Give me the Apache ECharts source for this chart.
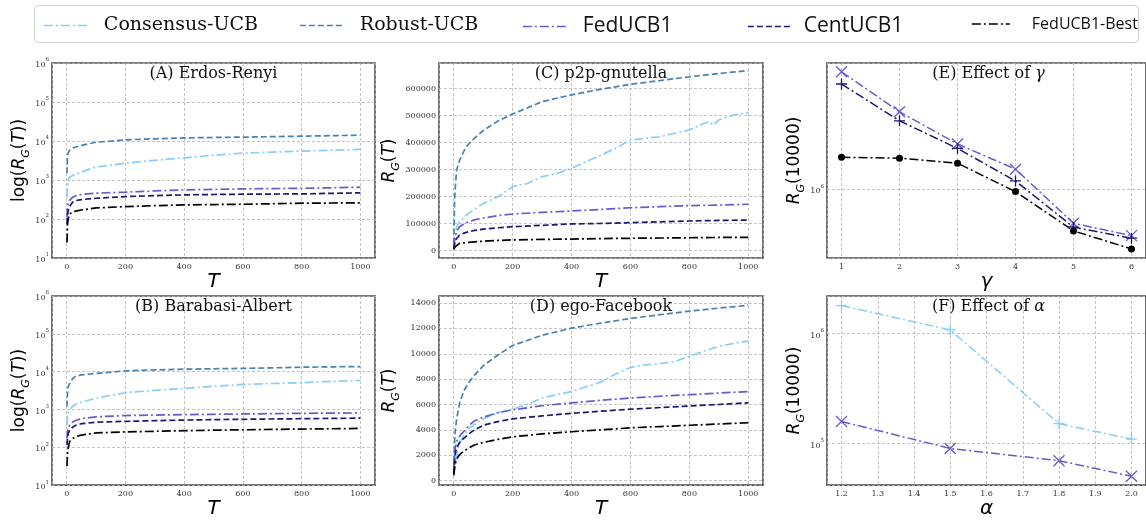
<!DOCTYPE html>
<html><head><meta charset="utf-8">
<script src="https://cdn.jsdelivr.net/npm/echarts@6/dist/echarts.min.js"></script>
<style>html,body{margin:0;padding:0;background:#fff}#c{width:1146px;height:520px}</style>
</head><body><div id="c"></div>
<script>
// ---------------- DATA ----------------
const seriesNames = ['Consensus-UCB', 'Robust-UCB', 'FedUCB1', 'CentUCB1', 'FedUCB1-Best'];

// Panels A, B (log scale)
const T_AB = [1, 3, 5, 10, 20, 30, 50, 100, 200, 300, 400, 500, 600, 700, 800, 900, 1000];
const A_consensus = [360, 700, 980, 1180, 1300, 1400, 1600, 2150, 2700, 3200, 3700, 4300, 4900, 5200, 5500, 5800, 6100];
const A_robust = [1500, 4000, 5000, 5700, 6500, 7000, 7700, 9300, 10700, 11400, 12000, 12300, 12600, 12900, 13300, 13700, 14100];
const A_fed = [110, 190, 245, 300, 360, 390, 425, 460, 487, 525, 558, 575, 592, 602, 612, 630, 653];
const A_cent = [75, 130, 164, 210, 270, 295, 315, 340, 376, 396, 415, 425, 432, 436, 440, 455, 468];
const A_best = [25, 75, 100, 135, 150, 160, 170, 192, 208, 220, 230, 235, 239, 246, 254, 257, 260];

const B_consensus = [380, 650, 850, 1000, 1200, 1350, 1550, 2000, 2770, 3200, 3600, 4100, 4600, 4850, 5100, 5500, 5900];
const B_robust = [1200, 3000, 4000, 4800, 6500, 7500, 8200, 9000, 10500, 11100, 11600, 11900, 12200, 12600, 13100, 13400, 13600];
const B_fed = [172, 260, 320, 380, 460, 510, 570, 640, 690, 710, 730, 745, 760, 775, 790, 800, 810];
const B_cent = [115, 180, 230, 280, 340, 380, 420, 460, 485, 505, 525, 538, 550, 560, 570, 580, 590];
const B_best = [32, 70, 95, 142, 170, 190, 210, 240, 255, 265, 275, 283, 290, 297, 303, 309, 315];

// Panels C, D (linear)
const T_CD = [0, 3, 5, 10, 20, 35, 50, 70, 100, 150, 200, 300, 400, 500, 600, 700, 800, 900, 1000];
const T_noisy = [0, 10, 20, 50, 100, 150, 200, 250, 300, 350, 400, 450, 500, 550, 600, 650, 700, 750, 800, 850, 870, 880, 900, 950, 1000];

const C_consensus = [15000, 89000, 107000, 138000, 175000, 200000, 237000, 249000, 274000, 286000, 305000, 330000, 354000, 379000, 410000, 416000, 422000, 435000, 447000, 472000, 478000, 465000, 484000, 502000, 512000];
const C_robust = [27000, 188000, 230000, 300000, 335000, 370000, 395000, 416000, 445000, 480000, 506000, 552000, 577000, 598000, 616000, 630000, 644000, 656000, 667000];
const C_fed = [15000, 40000, 52000, 72000, 89000, 100000, 107000, 114000, 121000, 130000, 136000, 142000, 147000, 153000, 159000, 163000, 167000, 169000, 172000];
const C_cent = [8600, 25000, 33000, 45000, 58000, 65000, 70000, 75000, 80000, 85000, 89000, 94000, 99000, 101000, 104000, 107000, 110000, 112000, 113600];
const C_best = [5000, 12000, 15000, 21000, 27000, 29000, 31000, 33000, 35000, 38000, 40000, 42000, 43000, 45000, 46000, 47000, 48000, 49000, 49400];

const D_consensus = [300, 2000, 3000, 4100, 4870, 5350, 5630, 6010, 6510, 6770, 7020, 7400, 7780, 8400, 8920, 9130, 9230, 9380, 9810, 10190, 10350, 10450, 10570, 10820, 11000];
const D_robust = [810, 3090, 3900, 4870, 6130, 7100, 7700, 8290, 9050, 9900, 10650, 11460, 12020, 12420, 12780, 13080, 13360, 13600, 13820];
const D_fed = [810, 2000, 2590, 3090, 3500, 3900, 4300, 4700, 5000, 5350, 5580, 5900, 6130, 6330, 6510, 6650, 6770, 6900, 7020];
const D_cent = [560, 1600, 2080, 2590, 3000, 3350, 3650, 4000, 4360, 4650, 4870, 5100, 5300, 5470, 5630, 5760, 5880, 6000, 6130];
const D_best = [430, 1000, 1320, 1700, 2050, 2330, 2550, 2800, 3000, 3250, 3450, 3680, 3850, 4000, 4160, 4260, 4360, 4460, 4560];

// Panel E (effect of gamma, log)
const gammaVals = [1, 2, 3, 4, 5, 6];
const E_fed = [3.87e6, 2.44e6, 1.685e6, 1.26e6, 0.676e6, 0.586e6];
const E_cent = [3.36e6, 2.20e6, 1.60e6, 1.10e6, 0.646e6, 0.569e6];
const E_best = [1.445e6, 1.43e6, 1.35e6, 0.973e6, 0.619e6, 0.503e6];

// Panel F (effect of alpha, log)
const alphaVals = [1.2, 1.5, 1.8, 2.0];
const F_consensus = [1.80e6, 1.08e6, 1.52e5, 1.10e5];
const F_fed = [1.59e5, 9.04e4, 7.0e4, 5.06e4];

const panelTitles = ['(A) Erdos-Renyi', '(B) Barabasi-Albert', '(C) p2p-gnutella', '(D) ego-Facebook', '(E) Effect of {i|γ}', '(F) Effect of {i|α}'];

// ---------------- STYLE ----------------
const STY = {
  'Consensus-UCB': {color: '#87CEFA', dash: [9, 3, 2, 3]},
  'Robust-UCB':    {color: '#4682B4', dash: [6, 3]},
  'FedUCB1':       {color: '#6A5ACD', dash: [9, 3, 2, 3]},
  'CentUCB1':      {color: '#191970', dash: [6, 3]},
  'FedUCB1-Best':  {color: '#000000', dash: [9, 3, 2, 3]}
};
const X_PATH = 'path://M0,0L10,10M10,0L0,10';
const PLUS_PATH = 'path://M5,0L5,10M0,5L10,5';

const grids = [
  {left: 52, top: 63, width: 323, height: 195},
  {left: 52, top: 296, width: 323, height: 196},
  {left: 439, top: 63, width: 324, height: 195},
  {left: 439, top: 296, width: 324, height: 196},
  {left: 827, top: 63, width: 323, height: 195},
  {left: 827, top: 296, width: 323, height: 196}
].map(g => Object.assign(g, {show: true, borderColor: '#4d4d4d', borderWidth: 1.6, backgroundColor: 'transparent', containLabel: false}));

const tickFont = {fontFamily: 'DejaVu Serif', fontSize: 8, color: '#333'};
const gridLine = {show: true, lineStyle: {color: '#b5b5b5', type: [3, 2], width: 0.8}};

function logLabel(v) {
  const e = Math.log10(v), r = Math.round(e);
  if (Math.abs(e - r) > 1e-6) return '';
  return '{b|10}{s|' + r + '}';
}
const logRich = {
  b: {fontFamily: 'DejaVu Serif', fontSize: 8, color: '#333', verticalAlign: 'bottom', lineHeight: 12},
  s: {fontFamily: 'DejaVu Serif', fontSize: 5.5, color: '#333', verticalAlign: 'top', lineHeight: 12}
};
const nameRich = {
  n: {fontFamily: 'DejaVu Sans', fontSize: 17, color: '#000', lineHeight: 24, verticalAlign: 'middle'},
  i: {fontFamily: 'DejaVu Sans', fontSize: 17, fontStyle: 'italic', color: '#000', lineHeight: 24, verticalAlign: 'middle'},
  s: {fontFamily: 'DejaVu Sans', fontSize: 11, fontStyle: 'italic', color: '#000', lineHeight: 24, verticalAlign: 'bottom'}
};
const xNameStyle = {fontFamily: 'DejaVu Sans', fontStyle: 'italic', fontSize: 20, color: '#000'};

function baseX(gi, min, max, split, name) {
  return {
    type: 'value', gridIndex: gi, min: min, max: max, splitNumber: split,
    name: name, nameLocation: 'middle', nameGap: 11, nameTextStyle: xNameStyle,
    axisLine: {show: false}, axisTick: {show: false}, splitLine: gridLine,
    axisLabel: Object.assign({margin: 5, showMinLabel: false, showMaxLabel: false,
      formatter: v => (v < min + 1e-9 || v > max - 1e-9) ? '' : String(Math.round(v * 100) / 100)}, tickFont)
  };
}
const xAxes = [
  baseX(0, -50, 1050, 5, 'T'),
  baseX(1, -50, 1050, 5, 'T'),
  baseX(2, -50, 1050, 5, 'T'),
  baseX(3, -50, 1050, 5, 'T'),
  baseX(4, 0.75, 6.25, 5, 'γ'),
  baseX(5, 1.16, 2.04, 9, 'α')
];
xAxes[5].axisLabel.formatter = v => (v < 1.17 || v > 2.03) ? '' : v.toFixed(1);

function logY(gi, min, max, name, gap) {
  return {
    type: 'log', logBase: 10, gridIndex: gi, min: min, max: max,
    name: name, nameLocation: 'middle', nameRotate: 90, nameGap: gap,
    nameTextStyle: {rich: nameRich},
    axisLine: {show: false}, axisTick: {show: false}, splitLine: gridLine,
    axisLabel: {margin: 3, formatter: logLabel, rich: logRich}
  };
}
function linY(gi, min, max, split, name, gap) {
  return {
    type: 'value', gridIndex: gi, min: min, max: max, splitNumber: split,
    name: name, nameLocation: 'middle', nameRotate: 90, nameGap: gap,
    nameTextStyle: {rich: nameRich},
    axisLine: {show: false}, axisTick: {show: false}, splitLine: gridLine,
    axisLabel: Object.assign({margin: 3, showMinLabel: false, showMaxLabel: false,
      formatter: v => (v < 0 || v > max - 1e-6) ? '' : String(v)}, tickFont)
  };
}
const logName = '{n|log(}{i|R}{s|G}{n|(}{i|T}{n|))}';
const rName = '{i|R}{s|G}{n|(}{i|T}{n|)}';
const r10kName = '{i|R}{s|G}{n|(10000)}';
const yAxes = [
  logY(0, 10, 1e6, logName, 17),
  logY(1, 10, 1e6, logName, 17),
  linY(2, -27000, 695000, 5, rName, 37),
  linY(3, -358, 14555, 7, rName, 37),
  logY(4, 4.53e5, 4.28e6, r10kName, 19),
  logY(5, 4.2e4, 2.198e6, r10kName, 19)
];

function zip(xs, ys) { return xs.map((x, i) => [x, ys[i]]); }
function line(name, gi, xs, ys, extra) {
  const s = STY[name];
  return Object.assign({
    type: 'line', name: name, xAxisIndex: gi, yAxisIndex: gi,
    data: zip(xs, ys), symbol: 'none', showSymbol: false, smooth: false,
    lineStyle: {color: s.color, width: 1.7, type: s.dash},
    itemStyle: {color: s.color},
    emphasis: {disabled: true}, animation: false, z: 3
  }, extra || {});
}
function marked(name, gi, xs, ys, sym, size) {
  const c = STY[name].color;
  const dot = sym === 'circle';
  return line(name, gi, xs, ys, {
    symbol: sym, showSymbol: true, symbolSize: size,
    lineStyle: {color: c, width: 1.5, type: [9, 3, 2, 3]},
    itemStyle: {color: c, borderColor: c, borderWidth: dot ? 0 : 1.3}
  });
}

const series = [
  line('Consensus-UCB', 0, T_AB, A_consensus),
  line('Robust-UCB', 0, T_AB, A_robust),
  line('FedUCB1', 0, T_AB, A_fed),
  line('CentUCB1', 0, T_AB, A_cent),
  line('FedUCB1-Best', 0, T_AB, A_best),

  line('Consensus-UCB', 1, T_AB, B_consensus),
  line('Robust-UCB', 1, T_AB, B_robust),
  line('FedUCB1', 1, T_AB, B_fed),
  line('CentUCB1', 1, T_AB, B_cent),
  line('FedUCB1-Best', 1, T_AB, B_best),

  line('Consensus-UCB', 2, T_noisy, C_consensus),
  line('Robust-UCB', 2, T_CD, C_robust),
  line('FedUCB1', 2, T_CD, C_fed),
  line('CentUCB1', 2, T_CD, C_cent),
  line('FedUCB1-Best', 2, T_CD, C_best),

  line('Consensus-UCB', 3, T_noisy, D_consensus),
  line('Robust-UCB', 3, T_CD, D_robust),
  line('FedUCB1', 3, T_CD, D_fed),
  line('CentUCB1', 3, T_CD, D_cent),
  line('FedUCB1-Best', 3, T_CD, D_best),

  marked('FedUCB1', 4, gammaVals, E_fed, X_PATH, 11),
  marked('CentUCB1', 4, gammaVals, E_cent, PLUS_PATH, 11),
  marked('FedUCB1-Best', 4, gammaVals, E_best, 'circle', 7),

  marked('Consensus-UCB', 5, alphaVals, F_consensus, PLUS_PATH, 11),
  marked('FedUCB1', 5, alphaVals, F_fed, X_PATH, 11)
];

const titles = panelTitles.map((t, i) => ({
  text: t, left: grids[i].left + grids[i].width / 2, top: grids[i].top + 3, textAlign: 'center', padding: 0,
  textStyle: {fontFamily: 'DejaVu Serif', fontSize: 16, fontWeight: 'normal', color: '#111',
    rich: {i: {fontFamily: 'DejaVu Serif', fontSize: 16, fontStyle: 'italic', color: '#111'}}}
}));

const serifLeg = {fontFamily: 'DejaVu Serif', fontSize: 19, color: '#111'};
const sansLeg = {fontFamily: 'Open Sans', fontSize: 21, color: '#111'};
const legendSpec = [
  {name: 'Consensus-UCB', left: 43, w: 43, pad: 12, ts: serifLeg},
  {name: 'Robust-UCB', left: 299, w: 43, pad: 12, ts: serifLeg},
  {name: 'FedUCB1', left: 522, w: 43, pad: 12, ts: sansLeg},
  {name: 'CentUCB1', left: 747, w: 43, pad: 8, ts: sansLeg},
  {name: 'FedUCB1-Best', left: 971, w: 38, pad: 17, ts: {fontFamily: 'Open Sans', fontSize: 16, color: '#111'}}
];
const legends = legendSpec.map(l => ({
  left: l.left, top: 16, padding: 0, itemWidth: l.w, itemHeight: 14, selectedMode: false,
  itemStyle: {opacity: 0},
  lineStyle: {width: 1.7},
  textStyle: Object.assign({padding: [0, 0, 0, l.pad]}, l.ts),
  data: [{name: l.name}]
}));

const chart = echarts.init(document.getElementById('c'), null, {renderer: 'canvas'});
chart.setOption({
  animation: false,
  backgroundColor: '#fff',
  title: titles,
  legend: legends,
  grid: grids,
  xAxis: xAxes,
  yAxis: yAxes,
  series: series,
  graphic: [{
    type: 'rect', z: -1, silent: true,
    shape: {x: 34.5, y: 5.5, width: 1104, height: 37, r: 4},
    style: {fill: '#fff', stroke: '#d0d0d0', lineWidth: 1}
  }]
});
</script>
</body></html>
